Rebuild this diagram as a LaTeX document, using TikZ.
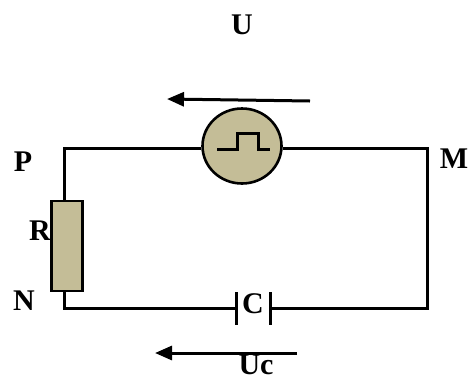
\documentclass[tikz,border=0pt]{standalone}
\usepackage{fontspec}
\setmainfont{Liberation Serif}
\usetikzlibrary{shapes.geometric,arrows.meta}
\definecolor{tan}{HTML}{C4BD97}
\tikzset{
  wire/.style={line width=3pt},
  part/.style={draw=black,line width=2.6pt,fill=tan},
  lbl/.style={font=\fontsize{30}{30}\selectfont\bfseries,anchor=base,inner sep=0pt,text depth=0pt},
  volt/.style={line width=3pt,-{Triangle[length=17pt,width=14pt]}},
}
\begin{document}
\begin{tikzpicture}[x=1pt,y=-1pt]
\useasboundingbox (0,0) rectangle (468,381);
% corners
\coordinate (tl) at (64,148);
\coordinate (tr) at (427,148);
\coordinate (br) at (427,308);
\coordinate (bl) at (64,308);
\coordinate (cL) at (236,308);
\coordinate (cR) at (270,308);
% parts
\node[part,ellipse,minimum width=79pt,minimum height=75pt,inner sep=0pt] (gen) at (242,146) {};
\node[part,rectangle,minimum width=31pt,minimum height=90pt,inner sep=0pt] (res) at (67,246) {};
% wires
\draw[wire] (gen.west |- tl) -- (tl) -- (tl |- res.north);
\draw[wire] (gen.east |- tl) -- (tr) -- (br) -- (cR);
\draw[wire] (cL) -- (bl) -- (bl |- res.south);
% capacitor plates
\draw[wire] (236,292) -- (236,325);
\draw[wire] (270,292) -- (270,325);
% pulse symbol
\draw[line width=3pt,line join=miter] (217,149) -- (237,149) -- (237,133.5) -- (258,133.5) -- (258,149) -- (270,149);
% voltage arrows
\coordinate (u1) at (310,101);
\coordinate (u2) at (167,99);
\draw[volt] (u1) -- (u2);
\coordinate (c1) at (297,353);
\coordinate (c2) at (155,353);
\draw[volt] (c1) -- (c2);
% labels
\node[lbl] (lU) at (242,34) {U};
\node[lbl] (lP) at (23,171) {P};
\node[lbl] (lM) at (454,168) {M};
\node[lbl] (lR) at (40,240) {R};
\node[lbl] (lN) at (24,310) {N};
\node[lbl] (lC) at (253,313) {C};
\node[lbl] (lUc) at (256,374) {Uc};
\end{tikzpicture}
\end{document}
